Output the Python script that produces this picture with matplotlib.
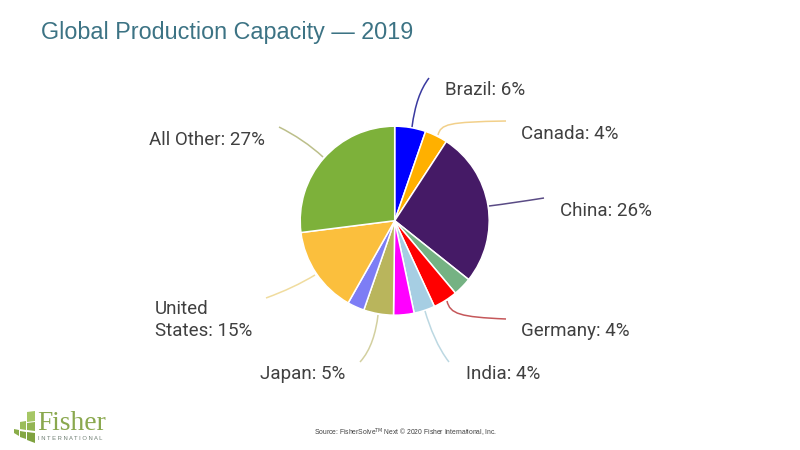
import matplotlib
matplotlib.use('Agg')
import matplotlib.pyplot as plt
from matplotlib.patches import PathPatch, Polygon
from matplotlib.path import Path

# slices clockwise from 12 o'clock
countries = ['Brazil', 'Canada', 'China', 'Other A', 'Germany', 'India', 'Other B',
             'Japan', 'Other C', 'United States', 'All Other']
shares = [5.3, 3.9, 26.5, 3.2, 4.2, 3.6, 3.5, 5.1, 2.9, 14.8, 27.0]
colors = ['#0000ff', '#ffb000', '#451a66', '#75b283', '#ff0000', '#a6cee3', '#ff00ff',
          '#b9b55c', '#7d7df5', '#fbbf3d', '#7db13a']

labels = ['Brazil: 6%', 'Canada: 4%', 'China: 26%', 'Germany: 4%', 'India: 4%',
          'Japan: 5%', 'United\nStates: 15%', 'All Other: 27%']
label_pos = [(445, 90), (521, 134), (560, 211), (521, 331), (466, 374),
             (260, 374), (155, 320), (149, 140)]

# leader lines in picture pixels: start at the pie edge, two control points, end
leaders = [
    ((412, 127), (415, 105), (420, 90), (429, 78), '#3a3aa0'),
    ((438, 135), (441, 124), (448, 122), (506, 121), '#f2d08a'),
    ((489, 206), (505, 204), (525, 201), (544, 198), '#5a4b85'),
    ((447, 301), (450, 314), (460, 317), (506, 319), '#c5575a'),
    ((425, 311), (430, 328), (438, 348), (449, 362), '#bcd8e2'),
    ((378, 315), (376, 332), (371, 350), (360, 362), '#d3d0a0'),
    ((315, 275), (300, 284), (285, 291), (266, 298), '#f0dc9e'),
    ((323, 157), (310, 145), (295, 135), (279, 127), '#bcbf8a'),
]


def flip(y):
    return 450 - y


plt.rcParams['font.family'] = ['Roboto', 'DejaVu Sans']

fig = plt.figure(figsize=(8, 4.5), dpi=100)
ax = fig.add_axes([0, 0, 1, 1])

ax.pie(shares, colors=colors, startangle=90, counterclock=False,
       center=(394.7, flip(220.7)), radius=94.5,
       wedgeprops={'edgecolor': 'white', 'linewidth': 1.1}, frame=True)
ax.set_xlim(0, 800)
ax.set_ylim(0, 450)
ax.set_aspect('auto')
ax.axis('off')

for start, c1, c2, end, col in leaders:
    verts = [(p[0], flip(p[1])) for p in (start, c1, c2, end)]
    codes = [Path.MOVETO, Path.CURVE4, Path.CURVE4, Path.CURVE4]
    ax.add_patch(PathPatch(Path(verts, codes), fc='none', ec=col, lw=1.1))

for text, (x, y) in zip(labels, label_pos):
    ax.text(x, flip(y), text, fontsize=13.5, color='#404040', va='center', ha='left',
            linespacing=1.3)

ax.text(41, flip(32), 'Global Production Capacity \u2014 2019', fontsize=16.8,
        family='Liberation Sans', color='#3c7384', va='center', ha='left')

ax.text(314, flip(432.5), 'Source: FisherSolve$^{\\mathrm{TM}}$ Next \u00a9 2020 Fisher International, Inc.',
        fontsize=4.9, family='Liberation Sans', color='#404040', va='center', ha='left')

# logo
blocks = [([(27, 412), (35, 411), (35, 421), (27, 422)], '#a6c765'),
          ([(20, 422), (26, 421), (26, 430), (20, 429)], '#9bbd5a'),
          ([(27, 423), (35, 422), (35, 431), (27, 430)], '#93b552'),
          ([(14, 429), (19, 430), (19, 436), (14, 433)], '#8aad4a'),
          ([(20, 431), (26, 432), (26, 439), (20, 437)], '#84a744'),
          ([(27, 432), (35, 433), (35, 443), (27, 440)], '#7fa23f')]
for b, col in blocks:
    ax.add_patch(Polygon([(x, flip(y)) for x, y in b], closed=True, fc=col, ec='none'))
ax.text(37, flip(424), 'Fisher', fontsize=19.8, family='Liberation Serif', color='#8aa84e',
        va='center', ha='left')
ax.text(38, flip(439), 'I N T E R N A T I O N A L', fontsize=4.2, family='Liberation Sans', color='#6f7f73',
        va='center', ha='left')

fig.savefig('out.png', dpi=100)
